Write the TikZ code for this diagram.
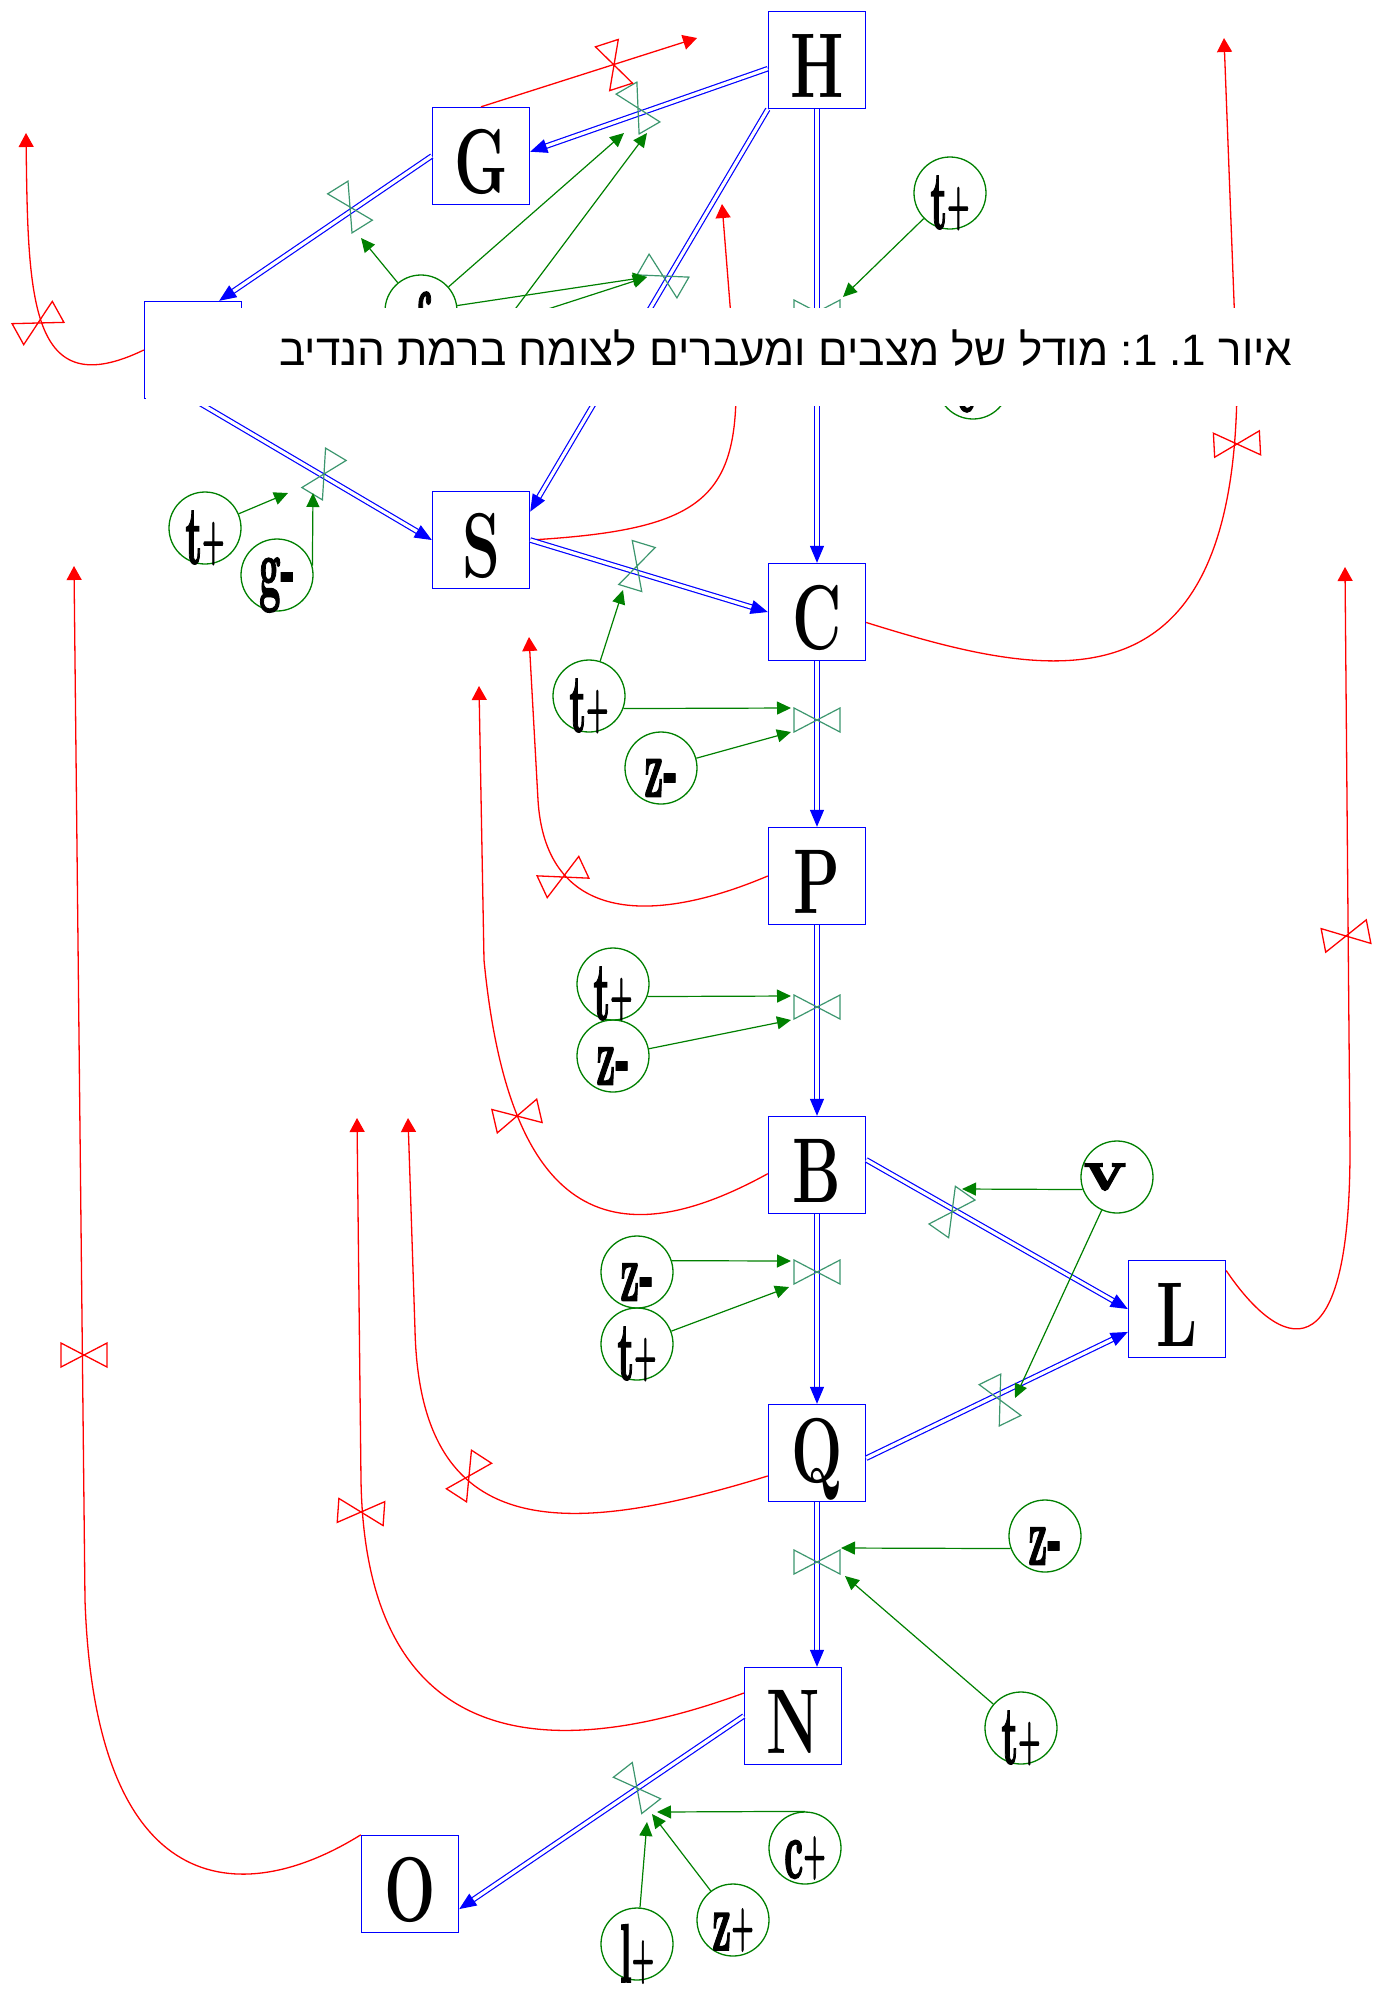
\documentclass[tikz,border=0pt]{standalone}
\usepackage{fontspec}
\usepackage{graphicx}
\usetikzlibrary{arrows.meta}
\newfontfamily\hebfont[Script=Hebrew]{Liberation Sans}
\newfontfamily\lblfont[FakeBold=2]{lmroman10-bold.otf}
\TeXXeTstate=1
\definecolor{sdgreen}{RGB}{0,128,0}
\definecolor{valvegreen}{RGB}{60,150,110}
\newcommand\bxl[1]{\scalebox{0.66}[1]{\fontsize{46pt}{46pt}\selectfont\bfseries #1}}
\newcommand\plbl[1]{\scalebox{0.45}[1]{\lblfont\fontsize{41.5pt}{42pt}\selectfont #1\raisebox{3pt}{\fontsize{28pt}{28pt}\selectfont +}}}
\newcommand\mlbl[1]{\scalebox{0.45}[1]{\lblfont\fontsize{41.5pt}{42pt}\selectfont #1-}}
\begin{document}
\begin{tikzpicture}[x=0.5pt,y=-0.5pt,
  stock/.style={draw=blue, line width=0.7pt, minimum width=48.5pt, minimum height=48.5pt, inner sep=0pt, label={[inner sep=0pt, yshift=-3pt]center:\bxl{#1}}},
  aux/.style={circle, draw=sdgreen, line width=0.65pt, minimum size=36pt, inner sep=0pt, label={[inner sep=0pt, yshift=-5pt]center:#1}},
  flow/.style={draw=blue, double=white, double distance=1.6pt, line width=0.6pt, -{Triangle[length=8.5pt,width=7pt]}},
  info/.style={draw=sdgreen, line width=0.6pt, -{Triangle[length=7pt,width=6.5pt]}},
  rflow/.style={draw=red, line width=0.65pt, -{Triangle[length=7pt,width=7.5pt]}},
  gvalve/.style={draw=valvegreen, line width=0.6pt},
  rvalve/.style={draw=red, line width=0.65pt},
  valve/.pic={\draw[pic actions] (0,0) -- (23,12) -- (23,-12) -- cycle (0,0) -- (-23,12) -- (-23,-12) -- cycle;}
]
\useasboundingbox (0,0) rectangle (1382,1999);
% stocks
\node[stock=H] (H) at (817,60) {};
\node[stock=G] (G) at (481,156) {};
\node[stock={}] (X) at (193,350) {};
\node[stock=S] (S) at (481,540) {};
\node[stock=C] (C) at (817,612) {};
\node[stock=P] (P) at (817,876) {};
\node[stock=B] (B) at (817,1165) {};
\node[stock=L] (L) at (1177,1309) {};
\node[stock=Q] (Q) at (817,1453) {};
\node[stock=N] (N) at (793,1716) {};
\node[stock=O] (O) at (410,1884) {};
% auxiliaries
\node[aux={\plbl{t}}] (c1) at (950,193) {};
\node[aux={\scalebox{0.45}[1]{\lblfont\fontsize{41.5pt}{42pt}\selectfont f}}] (c2) at (421,311) {};
\node[aux={\mlbl{c}}] (c3) at (973,383) {};
\node[aux={\plbl{t}}] (c4) at (205,528) {};
\node[aux={\mlbl{g}}] (c5) at (277,575) {};
\node[aux={\plbl{t}}] (c6) at (589,696) {};
\node[aux={\mlbl{z}}] (c7) at (661,768) {};
\node[aux={\plbl{t}}] (c8) at (613,984) {};
\node[aux={\mlbl{z}}] (c9) at (613,1056) {};
\node[circle, draw=sdgreen, line width=0.65pt, minimum size=36pt, inner sep=0pt,
  label={[inner sep=0pt, xshift=-6pt]center:\scalebox{1.2}[1]{\lblfont\fontsize{30pt}{30pt}\selectfont v}}] (c10) at (1117,1177) {};
\node[aux={\mlbl{z}}] (c11) at (637,1272) {};
\node[aux={\plbl{t}}] (c12) at (637,1344) {};
\node[aux={\mlbl{z}}] (c13) at (1045,1536) {};
\node[aux={\plbl{t}}] (c14) at (1021,1728) {};
\node[aux={\plbl{c}}] (c15) at (805,1848) {};
\node[aux={\plbl{z}}] (c16) at (733,1920) {};
\node[aux={\plbl{l}}] (c17) at (637,1944) {};
% free ends
\coordinate (r1) at (697,38);
\coordinate (r2) at (26,133);
\coordinate (r3) at (722,204);
\coordinate (r4) at (1224,38);
\coordinate (r5) at (529,637);
\coordinate (r6) at (479,686);
\coordinate (r7) at (1345,567);
\coordinate (r8) at (408,1118);
\coordinate (r9) at (357,1118);
\coordinate (r10) at (74,566);
\coordinate (h1) at (477,360);
\coordinate (h2) at (480,331);
% red outflows
\draw[rflow] (G.north) -- (r1);
\draw[rflow] (X.west) .. controls (30,405) and (28,300) .. (r2);
\draw[rflow] (S.east) .. controls (700,530) and (738,500) .. (736,380) -- (r3);
\draw[rflow] (C.-12) .. controls (1050,680) and (1237,720) .. (1237,380) -- (r4);
\draw[rflow] (P.west) .. controls (640,930) and (545,915) .. (538,800) -- (r5);
\draw[rflow] (B.190) .. controls (620,1255) and (510,1230) .. (484,960) -- (r6);
\draw[rflow] (L.38) .. controls (1280,1350) and (1350,1380) .. (1350,1150) -- (r7);
\draw[rflow] (Q.205) .. controls (560,1540) and (420,1540) .. (415,1330) -- (r8);
\draw[rflow] (N.155) .. controls (520,1775) and (365,1730) .. (361,1480) -- (r9);
\draw[rflow] (O.north west) .. controls (240,1910) and (95,1900) .. (85,1600) -- (r10);
% blue flows
\draw[flow] (H.190) -- (G.5);
\draw[flow] (G.west) -- (X.62);
\draw[flow] (X.south) -- (S.west);
\draw[flow] (H.south west) -- (S.30);
\draw[flow] (H.south) -- (C.north);
\draw[flow] (S.east) -- (C.west);
\draw[flow] (C.south) -- (P.north);
\draw[flow] (P.south) -- (B.north);
\draw[flow] (B.6) -- (L.west);
\draw[flow] (B.south) -- (Q.north);
\draw[flow] (Q.-6) -- (L.205);
\draw[flow] (Q.south) -- (Q.south |- N.north);
\draw[flow] (N.west) -- (O.-27);
% green valves
\pic[gvalve, rotate=-60] at (638,108) {valve};
\pic[gvalve, rotate=-58] at (350,207) {valve};
\pic[gvalve, rotate=59] at (324,474) {valve};
\pic[gvalve, rotate=-30] at (663,276) {valve};
\pic[gvalve] at (817,312) {valve};
\pic[gvalve, rotate=73] at (637,566) {valve};
\pic[gvalve] at (817,720) {valve};
\pic[gvalve] at (817,1007) {valve};
\pic[gvalve, rotate=55] at (952,1212) {valve};
\pic[gvalve] at (817,1272) {valve};
\pic[gvalve, rotate=-64] at (1000,1400) {valve};
\pic[gvalve] at (817,1562) {valve};
\pic[gvalve, rotate=-52] at (637,1788) {valve};
% red valves
\pic[rvalve, rotate=108] at (614,65) {valve};
\pic[rvalve, rotate=29] at (38,323) {valve};
\pic[rvalve, rotate=3] at (1237,444) {valve};
\pic[rvalve, rotate=25] at (563,877) {valve};
\pic[rvalve, rotate=13] at (517,1116) {valve};
\pic[rvalve, rotate=11] at (1346,936) {valve};
\pic[rvalve, rotate=57] at (469,1476) {valve};
\pic[rvalve, rotate=-4] at (361,1512) {valve};
\pic[rvalve] at (84,1355) {valve};
% information arrows
\coordinate (t1) at (843,297);
\coordinate (t2) at (361,238);
\coordinate (t3) at (624,133);
\coordinate (t4) at (647,277);
\coordinate (t5) at (647,133);
\coordinate (t7) at (288,493);
\coordinate (t8) at (313,493);
\coordinate (t9) at (623,590);
\coordinate (t10) at (791,708);
\coordinate (t11) at (791,732);
\coordinate (t12) at (791,996);
\coordinate (t13) at (791,1020);
\coordinate (t14) at (962,1189);
\coordinate (t15) at (1015,1398);
\coordinate (t16) at (791,1261);
\coordinate (t17) at (789,1287);
\coordinate (t18) at (841,1548);
\coordinate (t19) at (845,1576);
\coordinate (t20) at (657,1812);
\coordinate (t21) at (652,1814);
\coordinate (t22) at (647,1822);
\draw[info] (c1) -- (t1);
\draw[info] (c2) -- (t2);
\draw[info] (c2) -- (t3);
\draw[info] (c2) -- (t4);
\draw[info] (h1) -- (t5);
\draw[info] (h2) -- (t4);
\draw[info] (c4) -- (t7);
\draw[info] (c5.15) -- (t8);
\draw[info] (c6) -- (t9);
\draw[info] (c6.-20) -- (t10);
\draw[info] (c7) -- (t11);
\draw[info] (c8.-20) -- (t12);
\draw[info] (c9) -- (t13);
\draw[info] (c10.200) -- (t14);
\draw[info] (c10) -- (t15);
\draw[info] (c11.18) -- (t16);
\draw[info] (c12) -- (t17);
\draw[info] (c13.200) -- (t18);
\draw[info] (c14) -- (t19);
\draw[info] (c15.north) -- (t20);
\draw[info] (c16) -- (t21);
\draw[info] (c17) -- (t22);
% caption
\fill[white] (146,308) rectangle (1300,406);
\node[font=\hebfont\fontsize{22pt}{22pt}\selectfont, anchor=base east, inner sep=0pt] (cap) at (1293,365)
  {\beginR איור \mbox{1}\mbox{.} \mbox{1}\mbox{:} מודל של מצבים ומעברים לצומח ברמת הנדיב\endR};
\end{tikzpicture}
\end{document}
